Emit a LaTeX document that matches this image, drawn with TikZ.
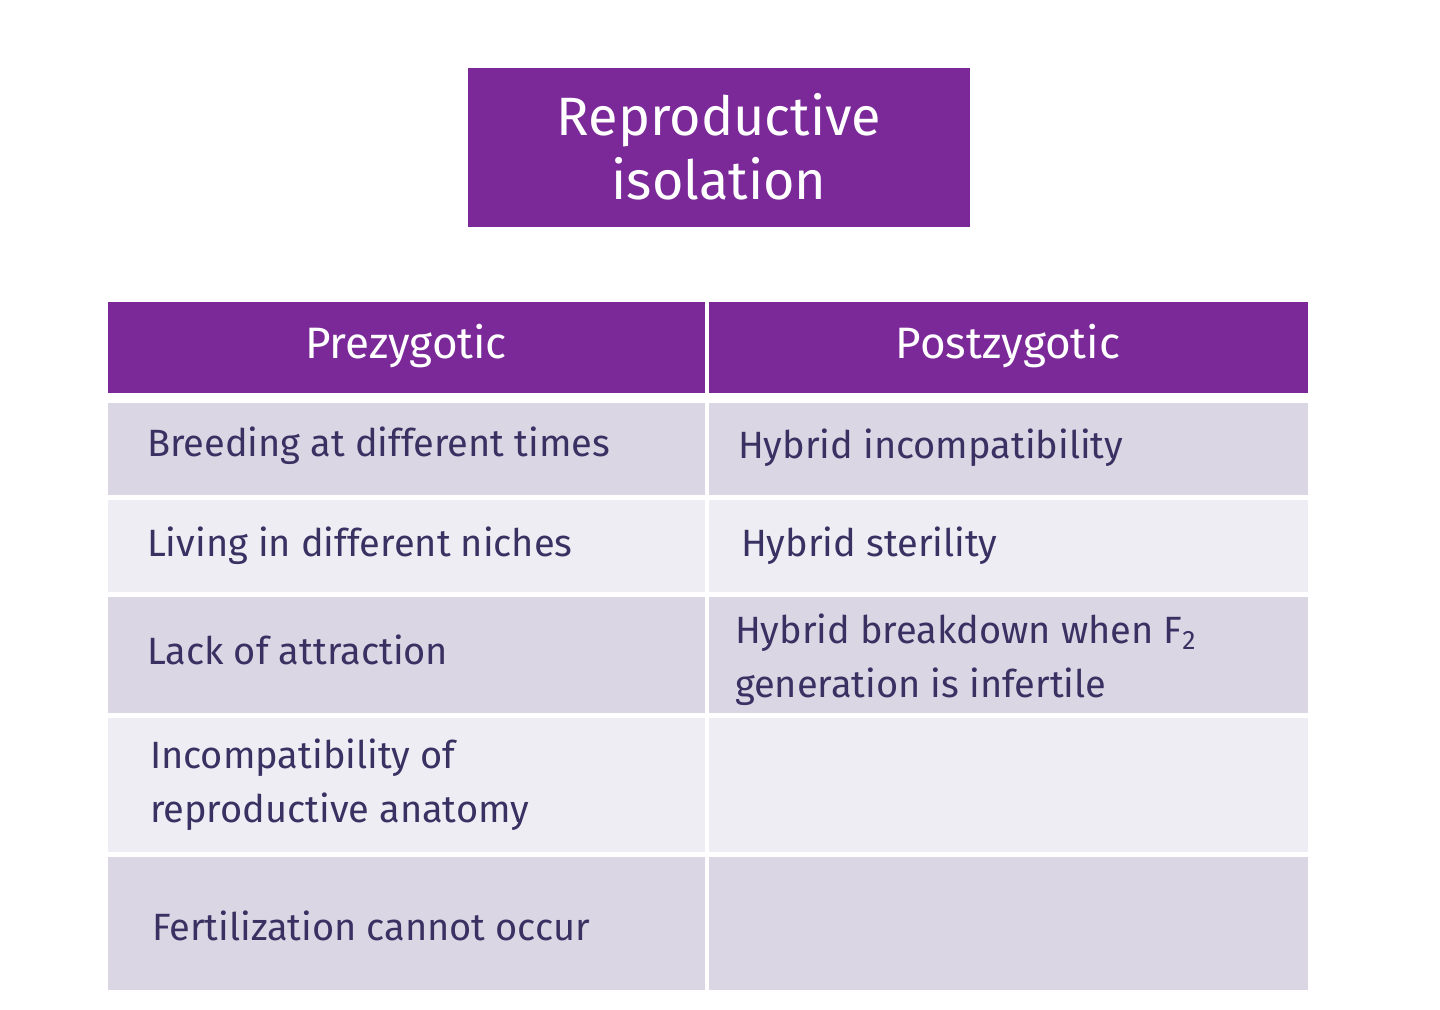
\documentclass[tikz,border=0pt]{standalone}
\usepackage{fontspec}
\setmainfont{Fira Sans}
\usetikzlibrary{positioning}
\definecolor{isopurple}{HTML}{7B2899}
\definecolor{rowdark}{HTML}{DAD6E4}
\definecolor{rowlight}{HTML}{EEEDF3}
\definecolor{celltext}{HTML}{3A3163}
\tikzset{
  headcell/.style={fill=isopurple,text=white,font=\fontsize{22}{26}\selectfont},
  bodycell/.style={text=celltext,anchor=west,align=left,font=\fontsize{19}{27}\selectfont}
}
\begin{document}
\begin{tikzpicture}[x=0.5pt,y=-0.5pt]
  \useasboundingbox (0,0) rectangle (1440,1010);
  \fill[white] (0,0) rectangle (1440,1010);
  % title
  \fill[isopurple] (468,68) rectangle (970,227);
  \node[text=white,align=center,font=\fontsize{27}{32}\selectfont] (title) at (719,147) {Reproductive\\isolation};
  % header
  \fill[isopurple] (108,302) rectangle (1308,393);
  \draw[white,line width=2pt] (707,302) -- (707,393);
  \node[headcell] (pre) at (406,346) {Prezygotic};
  \node[headcell] (post) at (1008,346) {Postzygotic};
  % rows
  \fill[rowdark]  (108,403) rectangle (1308,495);
  \fill[rowlight] (108,500) rectangle (1308,592);
  \fill[rowdark]  (108,597) rectangle (1308,713);
  \fill[rowlight] (108,718) rectangle (1308,852);
  \fill[rowdark]  (108,857) rectangle (1308,990);
  \draw[white,line width=2pt] (707,403) -- (707,990);
  \node[bodycell] (pa) at (140,446) {Breeding at different times};
  \node[bodycell] (pb) at (140,546) {Living in different niches};
  \node[bodycell] (pc) at (140,650) {Lack of attraction};
  \node[bodycell] (pd) at (143,785) {Incompatibility of\\reproductive anatomy};
  \node[bodycell] (pe) at (145,926) {Fertilization cannot occur};
  \node[bodycell] (qa) at (731,448) {Hybrid incompatibility};
  \node[bodycell] (qb) at (734,546) {Hybrid sterility};
  \node[bodycell] (qc) at (728,660) {Hybrid breakdown when F\textsubscript{2}\\generation is infertile};
\end{tikzpicture}
\end{document}
